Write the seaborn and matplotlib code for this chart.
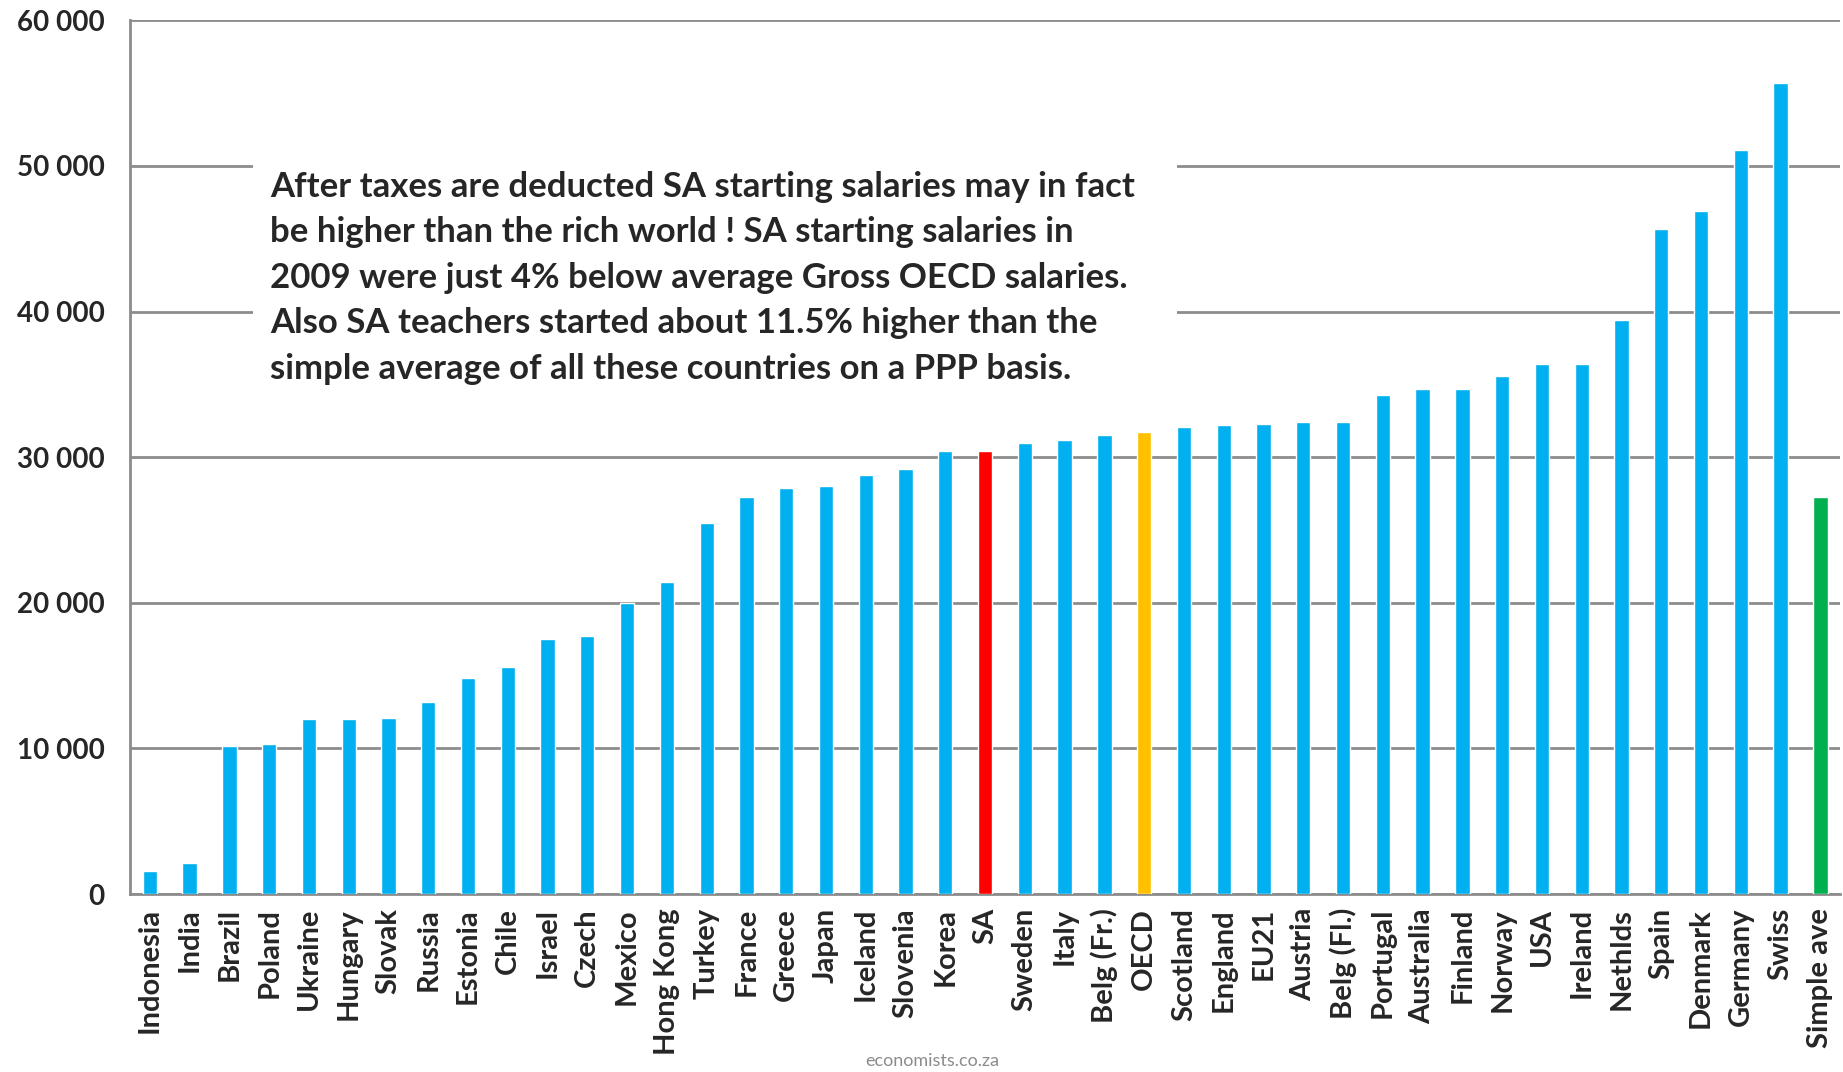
import matplotlib
matplotlib.use("Agg")
import matplotlib.pyplot as plt
import matplotlib.ticker as mticker
from matplotlib.patches import Rectangle
import seaborn as sns
import pandas as pd
import numpy as np

countries = ["Indonesia", "India", "Brazil", "Poland", "Ukraine", "Hungary",
             "Slovak", "Russia", "Estonia", "Chile", "Israel", "Czech",
             "Mexico", "Hong Kong", "Turkey", "France", "Greece", "Japan",
             "Iceland", "Slovenia", "Korea", "SA", "Sweden", "Italy",
             "Belg (Fr.)", "OECD", "Scotland", "England", "EU21", "Austria",
             "Belg (Fl.)", "Portugal", "Australia", "Finland", "Norway", "USA",
             "Ireland", "Nethlds", "Spain", "Denmark", "Germany", "Swiss",
             "Simple ave"]
salary = [1600, 2100, 10200, 10300, 12000, 12000,
          12100, 13200, 14850, 15600, 17500, 17700,
          20000, 21400, 25500, 27300, 27900, 28000,
          28800, 29200, 30400, 30450, 31000, 31200,
          31500, 31700, 32100, 32200, 32300, 32400,
          32400, 34300, 34700, 34700, 35600, 36400,
          36400, 39400, 45700, 46900, 51100, 55700,
          27300]
highlight = {"SA": "#FF0000", "OECD": "#FFC000", "Simple ave": "#00B050"}
yticks = [0, 10000, 20000, 30000, 40000, 50000, 60000]

note = ("After taxes are deducted SA starting salaries may in fact\n"
        "be higher than the rich world ! SA starting salaries in\n"
        "2009 were just 4% below average Gross OECD salaries.\n"
        "Also SA teachers started about 11.5% higher than the\n"
        "simple average of all these countries on a PPP basis.")

df = pd.DataFrame({"country": countries, "salary": salary})
palette = {c: highlight.get(c, "#00B0F0") for c in countries}

sns.set_style("white")
plt.rcParams["font.family"] = ["Lato", "DejaVu Sans"]

fig = plt.figure(figsize=(18.43, 10.72), dpi=100)
ax = fig.add_axes([0.0705, 0.166, 0.928, 0.815])

sns.barplot(data=df, x="country", y="salary", hue="country",
            palette=palette, width=0.36, legend=False, ax=ax,
            saturation=1, zorder=3)

ax.set_xlim(-0.5, len(countries) - 0.5)
ax.set_ylim(0, 60000)
ax.set_yticks(yticks)
ax.yaxis.set_major_formatter(
    mticker.FuncFormatter(lambda v, p: "{:,}".format(int(v)).replace(",", " ")))
ax.set_xlabel("")
ax.set_ylabel("")

ax.grid(axis="y", color="#8c8c8c", linewidth=2, zorder=0)
ax.set_axisbelow(True)
for s in ["top", "right"]:
    ax.spines[s].set_visible(False)
for s in ["left", "bottom"]:
    ax.spines[s].set_color("#8c8c8c")
    ax.spines[s].set_linewidth(2)

ax.tick_params(axis="y", length=9, width=2, color="#8c8c8c", pad=9,
               labelsize=20)
ax.tick_params(axis="x", length=0, pad=10, labelsize=21, rotation=90)
ax.set_xticks(np.arange(len(countries) + 1) - 0.5, minor=True)
ax.tick_params(axis="x", which="minor", length=9, width=1.5,
               color="#8c8c8c")
for lab in ax.get_xticklabels() + ax.get_yticklabels():
    lab.set_fontweight("bold")

ax.add_patch(Rectangle((0.072, 0.57), 0.54, 0.28, transform=ax.transAxes,
                       facecolor="white", edgecolor="none", zorder=2))
ax.text(0.082, 0.828, note, transform=ax.transAxes, ha="left", va="top",
        fontsize=25, fontweight="bold", linespacing=1.52, zorder=4)

fig.text(0.506, 0.003, "economists.co.za", ha="center", va="bottom",
         fontsize=13, color="#8c8c8c")

fig.savefig("out.png", dpi=100)
